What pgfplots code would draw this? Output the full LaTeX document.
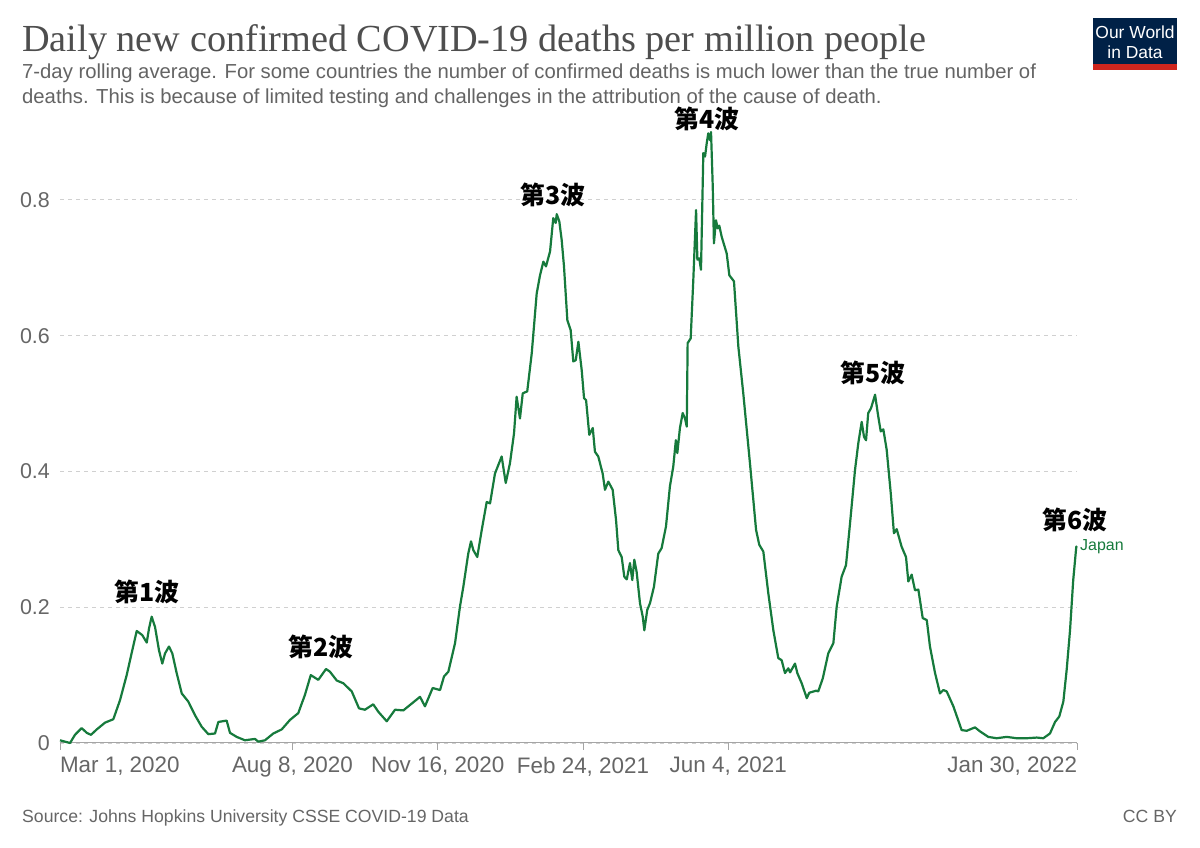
\documentclass[border=0pt]{standalone}
\usepackage{pgfplots}
\pgfplotsset{compat=1.18}
\usepackage{fontspec}
\setmainfont{Liberation Sans}
\newfontfamily\titlefont{Liberation Serif}
\newfontfamily\cjk{Noto Sans CJK JP}

\definecolor{owidgreen}{RGB}{22,122,60}
\definecolor{titlegray}{RGB}{78,78,78}
\definecolor{subgray}{RGB}{100,100,100}
\definecolor{tickgray}{RGB}{102,102,102}
\definecolor{gridgray}{RGB}{208,208,208}
\definecolor{axisgray}{RGB}{165,165,165}
\definecolor{owidblue}{RGB}{0,33,71}
\definecolor{owidred}{RGB}{206,38,30}

\newcommand{\wave}[1]{{\cjk\bfseries\fontsize{25}{28}\selectfont 第#1波}}

\begin{document}
\begin{tikzpicture}[x=1bp,y=1bp]
\path[use as bounding box, fill=white] (0,0) rectangle (1200,848);

% title and subtitle
\node[anchor=base west, inner sep=0pt, text=titlegray] at (22,796)
  {\titlefont\fontsize{38.4}{42}\selectfont Daily new confirmed COVID-19 deaths per million people};
\node[anchor=base west, inner sep=0pt, text=subgray] at (22,769)
  {\fontsize{20.35}{24}\selectfont 7-day rolling average. For some countries the number of confirmed deaths is much lower than the true number of};
\node[anchor=base west, inner sep=0pt, text=subgray] at (22,744)
  {\fontsize{20.35}{24}\selectfont deaths. This is because of limited testing and challenges in the attribution of the cause of death.};

% logo
\fill[owidblue] (1093,778) rectangle (1177,830);
\fill[owidred] (1093,778) rectangle (1177,784);
\node[text=white, inner sep=0pt, anchor=base] at (1135,809) {\fontsize{17.5}{20}\selectfont Our World};
\node[text=white, inner sep=0pt, anchor=base] at (1135,789) {\fontsize{17.5}{20}\selectfont in Data};

% footer
\node[anchor=base west, inner sep=0pt, text=tickgray] at (22,25)
  {\fontsize{17.7}{20}\selectfont Source: Johns Hopkins University CSSE COVID-19 Data};
\node[anchor=base east, inner sep=0pt, text=tickgray] at (1177,25)
  {\fontsize{17.7}{20}\selectfont CC BY};

\begin{axis}[
    at={(60bp,105bp)}, anchor=south west,
    scale only axis, width=1017bp, height=611bp,
    xmin=0, xmax=700, ymin=0, ymax=0.9,
    clip=false,
    axis x line=bottom, axis y line=left,
    x axis line style={-, draw=axisgray, line width=1bp},
    y axis line style={draw=none},
    xtick={0,160,260,360,460,700},
    xticklabels={{\rlap{Mar 1, 2020}},{Aug 8, 2020},{Nov 16, 2020},{Feb 24, 2021},{Jun 4, 2021},{\llap{Jan 30, 2022}}},
    ytick={0,0.2,0.4,0.6,0.8},
    tick align=outside, major tick length=7bp,
    xtick style={draw=axisgray, line width=1bp},
    ytick style={draw=none},
    ymajorgrids=true,
    grid style={draw=gridgray, line width=0.9bp, dash pattern=on 4bp off 4bp},
    ticklabel style={font=\fontsize{21.5}{24}\selectfont, text=tickgray},
    xticklabel style={anchor=north, inner sep=0pt, yshift=-7bp, font=\fontsize{22.5}{24}\selectfont},
    yticklabel style={anchor=east, inner sep=0pt, xshift=-3bp},
    /pgf/number format/assume math mode=true,
]
\addplot[owidgreen, line width=2.2bp, line join=round] coordinates {
(0,0.004)(3.4,0.002)(6.9,0.000)(10.3,0.012)(14.9,0.022)(18.4,0.015)(21.3,0.012)(25.3,0.020)(31.0,0.030)(36.7,0.035)
(41.3,0.063)(45.9,0.100)(49.8,0.137)(52.8,0.165)(56.6,0.159)(59.7,0.148)(61.3,0.169)(63.1,0.186)(65.4,0.171)(68.1,0.137)
(70.4,0.117)(72.3,0.132)(75.0,0.142)(77.3,0.132)(80.3,0.103)(83.8,0.073)(88.3,0.061)(92.9,0.041)(97.5,0.024)(102.1,0.013)
(106.7,0.014)(109.0,0.031)(114.7,0.033)(117.0,0.015)(121.6,0.009)(127.3,0.004)(134.2,0.006)(136.5,0.002)(141.1,0.004)(146.8,0.014)
(152.6,0.020)(158.3,0.034)(164.0,0.044)(168.6,0.071)(172.6,0.100)(177.8,0.093)(183.1,0.109)(185.8,0.105)(190.5,0.092)(195.0,0.088)
(200.8,0.076)(205.8,0.051)(209.9,0.049)(215.6,0.057)(219.1,0.046)(224.9,0.032)(230.6,0.049)(236.3,0.048)(240.9,0.056)(247.8,0.068)
(251.2,0.054)(256.5,0.081)(261.6,0.078)(264.3,0.098)(267.3,0.105)(271.9,0.147)(275.3,0.201)(277.6,0.230)(281.0,0.279)(282.9,0.297)
(284.5,0.284)(287.2,0.274)(290.3,0.314)(293.7,0.355)(296.0,0.353)(299.4,0.397)(304.0,0.422)(306.8,0.383)(309.7,0.412)(312.5,0.456)
(314.3,0.510)(316.6,0.478)(318.5,0.515)(321.6,0.518)(324.7,0.574)(328.1,0.662)(330.4,0.689)(332.7,0.709)(334.5,0.702)(337.3,0.724)
(339.5,0.773)(341.2,0.766)(341.9,0.779)(343.7,0.768)(345.3,0.741)(346.9,0.702)(349.2,0.623)(351.5,0.608)(353.3,0.562)(355.0,0.564)
(356.8,0.591)(359.1,0.549)(360.7,0.508)(362.1,0.505)(364.3,0.454)(366.7,0.464)(368.2,0.429)(370.5,0.422)(373.5,0.397)(375.1,0.373)
(377.4,0.385)(380.4,0.373)(382.7,0.329)(384.3,0.284)(386.6,0.274)(388.4,0.245)(390.1,0.241)(392.3,0.265)(393.9,0.240)(395.3,0.270)
(396.9,0.252)(399.2,0.206)(401.1,0.186)(402.2,0.166)(404.2,0.196)(406.1,0.206)(408.8,0.230)(411.8,0.279)(414.1,0.287)(417.1,0.319)
(419.8,0.378)(422.1,0.407)(423.9,0.446)(424.9,0.427)(426.7,0.464)(428.6,0.486)(430.2,0.478)(431.4,0.466)(432.0,0.589)(434.1,0.596)
(435.9,0.682)(437.8,0.785)(438.7,0.712)(440.0,0.714)(441.2,0.697)(442.8,0.869)(444.0,0.864)(445.1,0.883)(446.2,0.898)(447.4,0.888)
(448.1,0.900)(449.3,0.819)(450.1,0.736)(451.5,0.770)(452.7,0.758)(453.8,0.762)(455.4,0.746)(458.9,0.721)(460.7,0.689)(463.9,0.680)
(466.9,0.584)(470.3,0.515)(474.9,0.412)(479.1,0.314)(481.3,0.292)(484.1,0.282)(487.5,0.221)(491.0,0.166)(494.4,0.125)(496.7,0.122)
(499.0,0.103)(501.3,0.110)(502.5,0.104)(505.9,0.117)(507.5,0.103)(510.5,0.088)(514.0,0.066)(515.7,0.074)(520.4,0.077)(521.9,0.076)
(525.0,0.095)(528.8,0.132)(532.3,0.147)(534.6,0.201)(538.0,0.245)(541.0,0.262)(543.8,0.324)(547.2,0.402)(549.5,0.442)(551.8,0.473)
(553.4,0.451)(554.8,0.446)(556.3,0.486)(558.2,0.493)(561.0,0.513)(563.2,0.481)(564.9,0.459)(566.7,0.462)(569.0,0.432)(571.8,0.368)
(574.0,0.309)(575.9,0.315)(579.3,0.289)(582.3,0.274)(583.9,0.238)(586.2,0.248)(588.5,0.225)(590.8,0.226)(593.8,0.184)(596.6,0.181)
(598.8,0.142)(602.3,0.103)(605.7,0.073)(608.0,0.078)(610.3,0.076)(614.9,0.054)(620.6,0.019)(624.1,0.018)(629.8,0.023)(633.3,0.017)
(638.9,0.009)(644.7,0.007)(651.6,0.009)(658.5,0.007)(665.4,0.007)(672.3,0.008)(676.8,0.007)(681.4,0.014)(684.9,0.031)(687.8,0.039)
(690.6,0.061)(692.9,0.108)(695.2,0.166)(697.4,0.240)(699.5,0.289)(700,0.290)
};
\end{axis}

% series label and wave annotations
\node[anchor=west, inner sep=0pt, text=owidgreen] at (1080,301) {\fontsize{16}{18}\selectfont Japan};
\node[inner sep=0pt] at (147,256) {\wave{1}};
\node[inner sep=0pt] at (321,201) {\wave{2}};
\node[inner sep=0pt] at (553,653) {\wave{3}};
\node[inner sep=0pt] at (707,729) {\wave{4}};
\node[inner sep=0pt] at (873,475) {\wave{5}};
\node[inner sep=0pt] at (1075,328) {\wave{6}};
\end{tikzpicture}
\end{document}
